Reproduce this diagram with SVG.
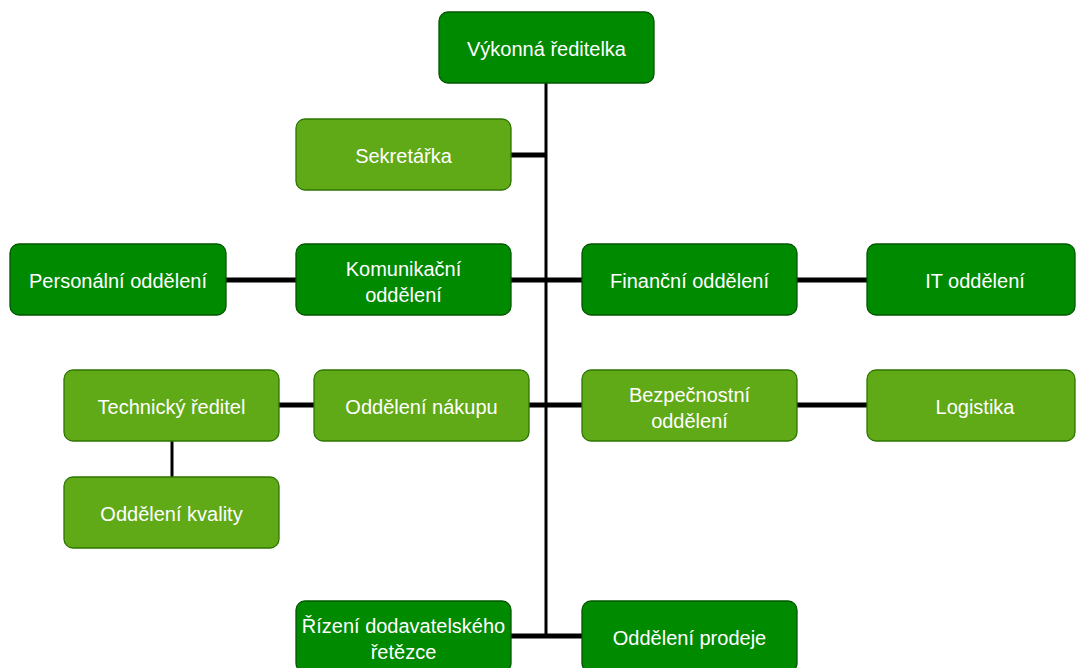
<svg xmlns="http://www.w3.org/2000/svg" width="1076" height="668" viewBox="0 0 1076 668">
<style>
.dk{fill:#008a00;stroke:#005700;stroke-width:1.3}
.lt{fill:#60a917;stroke:#2d7600;stroke-width:1.3}
text{font-family:"Liberation Sans",Arial,sans-serif;font-size:20px;fill:#ffffff;text-anchor:middle}
.trunk{stroke:#000;stroke-width:3;fill:none}
.br{stroke:#000;stroke-width:5;fill:none}
</style>
<rect width="1076" height="668" fill="#ffffff"/>
<g id="connectors">
<line class="trunk" x1="546" y1="83" x2="546" y2="638"/>
<line class="br" x1="511" y1="155" x2="546" y2="155"/>
<line class="br" x1="226" y1="280" x2="296" y2="280"/>
<line class="br" x1="511" y1="280" x2="582" y2="280"/>
<line class="br" x1="797" y1="280" x2="867" y2="280"/>
<line class="br" x1="279" y1="405" x2="314" y2="405"/>
<line class="br" x1="529" y1="405" x2="582" y2="405"/>
<line class="br" x1="797" y1="405" x2="867" y2="405"/>
<line class="trunk" x1="172" y1="441" x2="172" y2="477"/>
<line class="br" x1="511" y1="636" x2="582" y2="636"/>
</g>
<g id="vykonna"><rect class="dk" x="439" y="12" width="215" height="71" rx="9"/><text x="546.5" y="56">Výkonná ředitelka</text></g>
<g id="sekretarka"><rect class="lt" x="296" y="119" width="215" height="71" rx="9"/><text x="403.5" y="163">Sekretářka</text></g>
<g id="personalni"><rect class="dk" x="10" y="244" width="216" height="71" rx="9"/><text x="118" y="288">Personální oddělení</text></g>
<g id="komunikacni"><rect class="dk" x="296" y="244" width="215" height="71" rx="9"/><text x="403.5" y="276">Komunikační</text><text x="403.5" y="302">oddělení</text></g>
<g id="financni"><rect class="dk" x="582" y="244" width="215" height="71" rx="9"/><text x="689.5" y="288">Finanční oddělení</text></g>
<g id="it"><rect class="dk" x="867" y="244" width="208" height="71" rx="9"/><text x="975" y="288">IT oddělení</text></g>
<g id="technicky"><rect class="lt" x="64" y="370" width="215" height="71" rx="9"/><text x="171.5" y="414">Technický ředitel</text></g>
<g id="nakupu"><rect class="lt" x="314" y="370" width="215" height="71" rx="9"/><text x="421.5" y="414">Oddělení nákupu</text></g>
<g id="bezpecnostni"><rect class="lt" x="582" y="370" width="215" height="71" rx="9"/><text x="689.5" y="402">Bezpečnostní</text><text x="689.5" y="428">oddělení</text></g>
<g id="logistika"><rect class="lt" x="867" y="370" width="208" height="71" rx="9"/><text x="975" y="414">Logistika</text></g>
<g id="kvality"><rect class="lt" x="64" y="477" width="215" height="71" rx="9"/><text x="171.5" y="521">Oddělení kvality</text></g>
<g id="rizeni"><rect class="dk" x="296" y="601" width="215" height="71" rx="9"/><text x="403.5" y="633">Řízení dodavatelského</text><text x="403.5" y="659">řetězce</text></g>
<g id="prodeje"><rect class="dk" x="582" y="601" width="215" height="71" rx="9"/><text x="689.5" y="645">Oddělení prodeje</text></g>
</svg>
